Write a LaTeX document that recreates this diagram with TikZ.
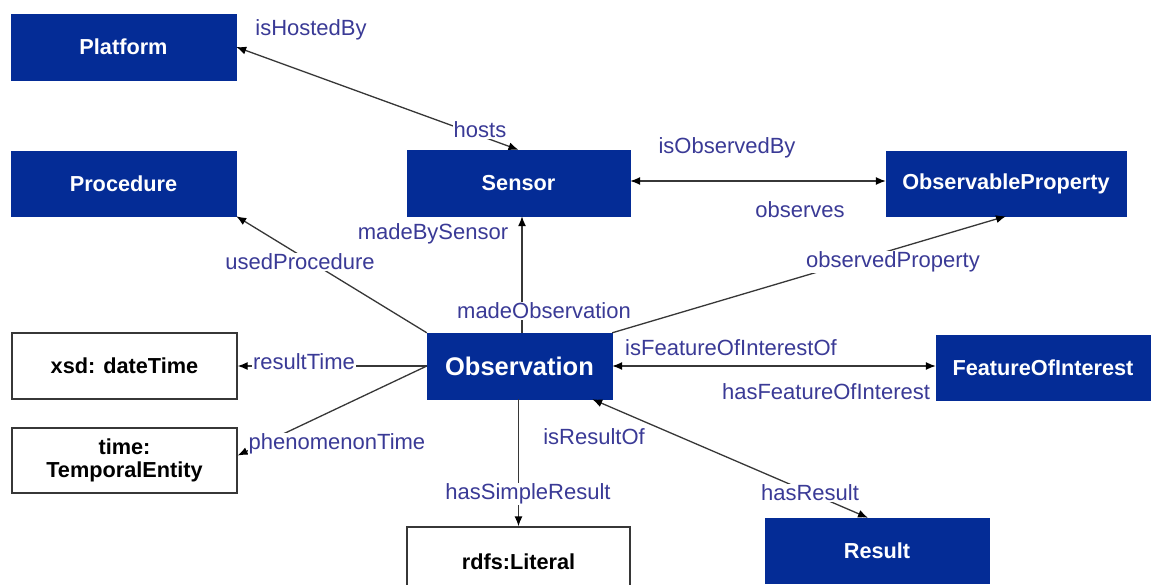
\documentclass[tikz,border=0pt]{standalone}
\usepackage{fontspec}
\setmainfont{Liberation Sans}
\usetikzlibrary{arrows.meta}
\definecolor{boxblue}{RGB}{4,44,150}
\definecolor{lblblue}{RGB}{58,58,150}
\definecolor{linegray}{RGB}{55,55,55}
\tikzset{
  bluebox/.style={draw=boxblue, fill=boxblue, text=white, inner sep=0pt, align=center,
    font=\fontsize{21.7}{23}\selectfont\bfseries},
  whitebox/.style={draw=linegray, line width=1.3pt, fill=white, text=black, inner sep=0pt, align=center,
    font=\fontsize{21.7}{23}\selectfont\bfseries},
  lbl/.style={text=lblblue, fill=white, inner sep=1pt, font=\fontsize{22}{24}\selectfont},
  conn/.style={draw=linegray, line width=1.3pt, >={Latex[length=10pt,width=8pt,color=black]}}
}
\begin{document}
\begin{tikzpicture}[x=1pt,y=-1pt]
\useasboundingbox[fill=white] (0,0) rectangle (1153,585);
\clip (0,0) rectangle (1153,585);
% boxes
\node[bluebox, minimum width=225pt, minimum height=66pt] (platform) at (123.5,47) {Platform};
\node[bluebox, minimum width=225pt, minimum height=65pt] (proc) at (123.5,183.5) {Procedure};
\node[bluebox, minimum width=223pt, minimum height=66pt] (sensor) at (518.5,183) {Sensor};
\node[bluebox, minimum width=240pt, minimum height=65pt] (obsprop) at (1006,183.5) {ObservableProperty};
\node[whitebox, minimum width=225pt, minimum height=66pt] (xsd) at (124.5,366) {xsd: dateTime};
\node[whitebox, minimum width=225pt, minimum height=65pt] (time) at (124.5,460.5) {time:\\TemporalEntity};
\node[bluebox, minimum width=185pt, minimum height=66pt, font=\fontsize{25.5}{27}\selectfont\bfseries] (obs) at (519.5,366) {Observation};
\node[bluebox, minimum width=214pt, minimum height=65pt] (foi) at (1043,367.5) {FeatureOfInterest};
\node[whitebox, minimum width=223pt, minimum height=70pt] (lit) at (518.5,562) {rdfs:Literal};
\node[bluebox, minimum width=224pt, minimum height=65pt] (result) at (877,550.5) {Result};
% connectors
\draw[conn, <->] (sensor.north) -- (platform.east);
\draw[conn, ->] (obs.north west) -- (proc.south east);
\draw[conn, ->] ([xshift=2.5pt]obs.north) -- ([xshift=2.5pt]obs.north |- sensor.south);
\draw[conn, ->] (obs.north east) -- (obsprop.south);
\draw[conn, <->] ([yshift=2pt]sensor.east) -- ([yshift=2pt]sensor.east -| obsprop.west);
\draw[conn, ->] (obs.west) -- (obs.west -| xsd.east);
\draw[conn, ->] (obs.west) -- ([yshift=5pt]time.east);
\draw[conn, ->] ([xshift=-1pt]obs.south) -- ([xshift=-1pt]obs.south |- lit.north);
\draw[conn, <->] (obs.east) -- (obs.east -| foi.west);
\draw[conn, <->] ([xshift=-20pt]obs.south east) -- ([xshift=-9pt]result.north);
% labels
\node[lbl] (lhb) at (311,30) {isHostedBy};
\node[lbl] (lho) at (480,130) {hosts};
\node[lbl] (lmbs) at (433,234) {madeBySensor};
\node[lbl] (lup) at (300,262) {usedProcedure};
\node[lbl] (liob) at (727,148) {isObservedBy};
\node[lbl] (lobs) at (800,210) {observes};
\node[lbl] (lop) at (893,262) {observedProperty};
\node[lbl] (lmo) at (544,311) {madeObservation};
\node[lbl] (lifo) at (731,348) {isFeatureOfInterestOf};
\node[lbl] (lhfo) at (826,392) {hasFeatureOfInterest};
\node[lbl] (lrt) at (304,362) {resultTime};
\node[lbl] (lpt) at (337,444) {phenomenonTime};
\node[lbl] (liro) at (594,437) {isResultOf};
\node[lbl] (lhsr) at (528,494) {hasSimpleResult};
\node[lbl] (lhr) at (810,493) {hasResult};
\end{tikzpicture}
\end{document}
